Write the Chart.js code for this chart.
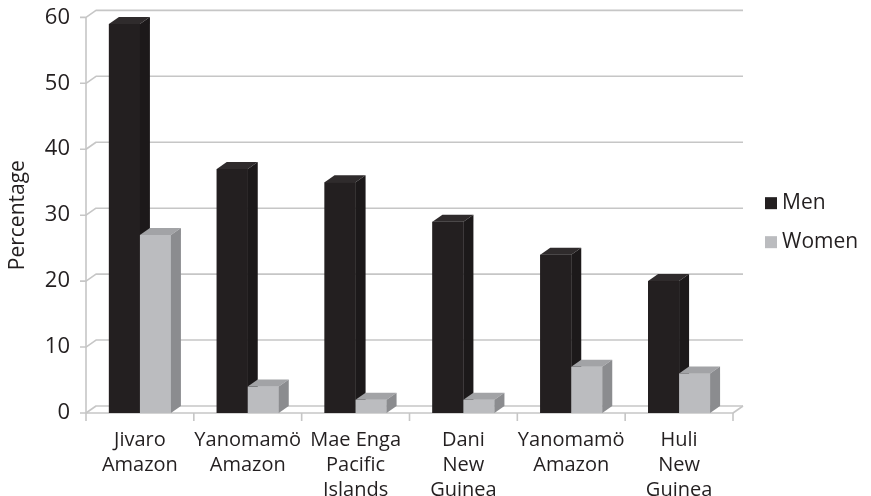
<!DOCTYPE html>
<html>
<head>
<meta charset="utf-8">
<script src="https://cdn.jsdelivr.net/npm/chart.js@4/dist/chart.umd.min.js"></script>
<style>
  html, body { margin: 0; padding: 0; background: #ffffff; }
  #wrap { width: 871px; height: 496px; }
</style>
</head>
<body>
<div id="wrap"><canvas id="c" width="871" height="496"></canvas></div>
<script>
// Deaths attributed to warfare, by society
const categories = [
  ['Jivaro', 'Amazon'],
  ['Yanomamö', 'Amazon'],
  ['Mae Enga', 'Pacific', 'Islands'],
  ['Dani', 'New', 'Guinea'],
  ['Yanomamö', 'Amazon'],
  ['Huli', 'New', 'Guinea']
];
const menValues   = [59, 37, 35, 29, 24, 20];
const womenValues = [27, 4, 2, 2, 7, 6];
const yTickValues = [0, 10, 20, 30, 40, 50, 60];

const seriesNames = ['Men', 'Women'];
// front / top / side shading for each series
const faces = [
  { front: '#231f20', top: '#2f2b2c', side: '#1c191a' },
  { front: '#bbbcbf', top: '#a2a3a6', side: '#8b8c8f' }
];
const depth = { dx: 10, dy: -7 };
const gridColor = '#c6c6c6';
const textColor = '#231f20';
const FONT = "'Open Sans', 'DejaVu Sans', sans-serif";

const columns3d = {
  id: 'columns3d',
  beforeDatasetsDraw(chart) {
    const { ctx, chartArea, scales } = chart;
    const ys = scales.y, xs = scales.x;
    const { left, right } = chartArea;
    const y0 = ys.getPixelForValue(0);
    ctx.save();
    ctx.strokeStyle = gridColor;
    ctx.lineWidth = 1.6;
    ctx.lineJoin = 'round';
    // back wall gridlines with side-wall connectors and tick marks
    ys.ticks.forEach(t => {
      const y = ys.getPixelForValue(t.value);
      ctx.beginPath();
      ctx.moveTo(left - 6, y);
      ctx.lineTo(left, y);
      ctx.lineTo(left + depth.dx, y + depth.dy);
      ctx.lineTo(right + depth.dx, y + depth.dy);
      ctx.stroke();
    });
    // front axis line
    ctx.beginPath();
    ctx.moveTo(left, ys.getPixelForValue(ys.max));
    ctx.lineTo(left, y0);
    ctx.stroke();
    // floor front edge and right edge
    ctx.beginPath();
    ctx.moveTo(left, y0);
    ctx.lineTo(right, y0);
    ctx.lineTo(right + depth.dx, y0 + depth.dy);
    ctx.stroke();
    // category boundary ticks
    const n = xs.ticks.length;
    const bounds = [left];
    for (let i = 0; i < n - 1; i++) {
      bounds.push((xs.getPixelForTick(i) + xs.getPixelForTick(i + 1)) / 2);
    }
    bounds.push(right);
    ctx.beginPath();
    bounds.forEach(bx => {
      ctx.moveTo(bx, y0);
      ctx.lineTo(bx, y0 + 8);
    });
    ctx.stroke();
    ctx.restore();
  },
  afterDatasetsDraw(chart) {
    const { ctx } = chart;
    const metas = chart.data.datasets.map((d, i) => chart.getDatasetMeta(i));
    const count = chart.data.labels.length;
    ctx.save();
    for (let k = 0; k < count; k++) {
      metas.forEach((meta, di) => {
        const el = meta.data[k];
        if (!el) return;
        const { x, y, base, width } = el.getProps(['x', 'y', 'base', 'width'], true);
        const l = x - width / 2, r = x + width / 2;
        const f = faces[di];
        // front
        ctx.fillStyle = f.front;
        ctx.fillRect(l, y, width, base - y);
        // top
        ctx.fillStyle = f.top;
        ctx.beginPath();
        ctx.moveTo(l, y);
        ctx.lineTo(l + depth.dx, y + depth.dy);
        ctx.lineTo(r + depth.dx, y + depth.dy);
        ctx.lineTo(r, y);
        ctx.closePath();
        ctx.fill();
        // side
        ctx.fillStyle = f.side;
        ctx.beginPath();
        ctx.moveTo(r, y);
        ctx.lineTo(r + depth.dx, y + depth.dy);
        ctx.lineTo(r + depth.dx, base + depth.dy);
        ctx.lineTo(r, base);
        ctx.closePath();
        ctx.fill();
      });
    }
    ctx.restore();
  },
  afterDraw(chart) {
    // legend at the right
    const { ctx, chartArea } = chart;
    const lx = chartArea.right + 32;
    const cy0 = (chartArea.top + chartArea.bottom) / 2 - 12;
    ctx.save();
    ctx.font = '21px ' + FONT;
    ctx.textBaseline = 'middle';
    ctx.textAlign = 'left';
    chart.data.datasets.forEach((ds, i) => {
      const cy = cy0 + i * 39;
      ctx.fillStyle = faces[i].front;
      ctx.fillRect(lx, cy - 6, 12, 12);
      ctx.fillStyle = textColor;
      ctx.fillText(ds.label, lx + 17, cy);
    });
    ctx.restore();
  }
};

new Chart(document.getElementById('c'), {
  type: 'bar',
  data: {
    labels: categories,
    datasets: [
      { label: seriesNames[0], data: menValues, backgroundColor: faces[0].front },
      { label: seriesNames[1], data: womenValues, backgroundColor: faces[1].front }
    ]
  },
  options: {
    responsive: false,
    animation: false,
    devicePixelRatio: 1,
    layout: { padding: { top: 0, right: 138, bottom: 0, left: 0 } },
    datasets: { bar: { categoryPercentage: 0.575, barPercentage: 1.0 } },
    plugins: {
      legend: { display: false },
      tooltip: { enabled: false }
    },
    scales: {
      x: {
        grid: { display: false },
        border: { display: false },
        ticks: {
          autoSkip: false,
          maxRotation: 0,
          minRotation: 0,
          padding: 7,
          color: textColor,
          font: { family: FONT, size: 20, lineHeight: 1.25 }
        },
        afterFit(scale) { scale.height = 83; }
      },
      y: {
        min: 0,
        max: 60,
        afterBuildTicks(scale) {
          scale.ticks = yTickValues.map(v => ({ value: v }));
        },
        grid: { display: false },
        border: { display: false },
        ticks: {
          padding: 8,
          color: textColor,
          font: { family: FONT, size: 22, lineHeight: 0.85 }
        },
        title: {
          display: true,
          text: 'Percentage',
          color: textColor,
          padding: { top: 5, bottom: 0 },
          font: { family: FONT, size: 21 }
        },
        afterFit(scale) { scale.width = 86; }
      }
    }
  },
  plugins: [columns3d]
});
</script>
</body>
</html>
